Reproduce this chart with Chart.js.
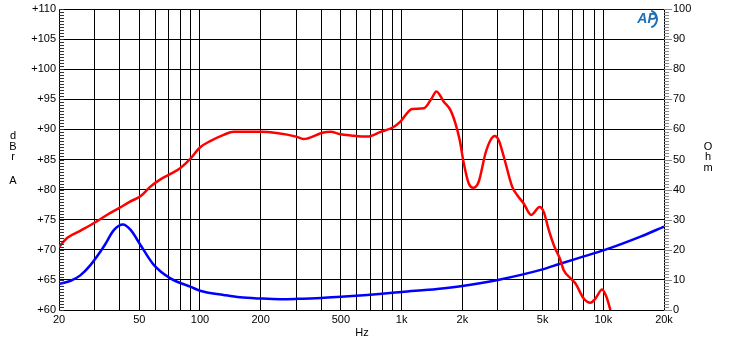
<!DOCTYPE html>
<html>
<head>
<meta charset="utf-8">
<script src="https://cdn.jsdelivr.net/npm/chart.js@4"></script>
<style>
  body { margin: 0; background: #fff; }
  canvas { display: block; }
</style>
</head>
<body>
<canvas id="myChart" width="730" height="343"></canvas>
<script>
// Frecuencias y niveles de la respuesta (rojo, dBrA)
const respFreq = [20, 22, 25.6, 30, 35, 40, 45, 50.7, 56.8, 63.7, 71.4, 80, 90, 100, 113, 131, 147, 200, 240, 300, 326, 410, 444, 497, 560, 676, 786, 912, 986,
  1128, 1288, 1400, 1488, 1618, 1746, 1848, 1942, 2032, 2152, 2263, 2411, 2603, 2757, 2895, 3031, 3209, 3532, 3738, 4031, 4386, 4838, 5065,
  5364, 5724, 6081, 6367, 6871, 7277, 8000, 8630, 9140, 9865, 10360, 10850];
const respDb = [70.5, 72.0, 73.2, 74.5, 75.9, 77.0, 78.0, 78.9, 80.5, 81.7, 82.6, 83.6, 85.2, 87.0, 88.1, 89.1, 89.6, 89.6, 89.4, 88.8, 88.4, 89.5, 89.6, 89.2, 89.0, 88.8, 89.6, 90.4, 91.3,
  93.4, 93.5, 95.0, 96.3, 94.6, 93.2, 91.0, 88.2, 84.4, 81.0, 80.3, 81.3, 86.0, 88.2, 88.9, 88.2, 85.5, 80.5, 79.1, 77.7, 75.8, 77.1, 76.3,
  73.3, 70.5, 68.6, 66.6, 65.3, 64.4, 61.9, 61.2, 61.9, 63.4, 62.2, 60.0];

// Impedancia (azul, Ohm)
const impFreq = [20, 23, 25.5, 28.7, 33.3, 37.5, 41.5, 45.3, 50.7, 59, 71.4, 90, 100, 131, 158, 200, 250, 300, 400, 500, 676, 800, 1000, 1500, 2000, 3000, 5000, 6000, 8000, 10000, 15300, 20000];
const impOhm = [8.6, 9.8, 11.5, 15.0, 21.0, 26.6, 28.4, 26.6, 21.6, 15.0, 10.5, 7.7, 6.4, 5.0, 4.2, 3.8, 3.6, 3.7, 4.0, 4.4, 5.0, 5.4, 6.0, 7.0, 8.0, 10.0, 13.5, 15.2, 17.8, 19.8, 24.4, 27.7];

// Lineas de grilla del eje X y sus etiquetas
const xGrid = [20, 30, 40, 50, 60, 70, 80, 90, 100, 200, 300, 400, 500, 600, 700, 800, 900, 1000, 2000, 3000, 4000, 5000, 6000, 7000, 8000, 9000, 10000, 20000];
const xLabelVals = [20, 50, 100, 200, 500, 1000, 2000, 5000, 10000, 20000];
const xLabels = ['20', '50', '100', '200', '500', '1k', '2k', '5k', '10k', '20k'];

const FONT = { family: 'Liberation Sans, Arial, sans-serif', size: 11 };

function toPoints(xs, ys) {
  return xs.map((x, i) => ({ x: x, y: ys[i] }));
}

// Plugin para marcas menores, titulos de ejes y logo
const extras = {
  id: 'extras',
  afterDraw(chart) {
    const ctx = chart.ctx;
    const area = chart.chartArea;
    const yL = chart.scales.y;
    const yR = chart.scales.y1;
    ctx.save();
    ctx.lineWidth = 1;
    // marcas menores izquierda (hacia adentro)
    ctx.strokeStyle = '#333';
    for (let v = 60; v <= 110; v += 0.5) {
      const py = Math.round(yL.getPixelForValue(v)) + 0.5;
      ctx.beginPath();
      ctx.moveTo(area.left, py);
      ctx.lineTo(area.left + 5, py);
      ctx.stroke();
    }
    // marcas menores derecha (hacia afuera)
    ctx.strokeStyle = '#888';
    for (let v = 0; v <= 100; v += 1) {
      const py = Math.round(yR.getPixelForValue(v)) + 0.5;
      ctx.beginPath();
      ctx.moveTo(area.right, py);
      ctx.lineTo(area.right + (v % 10 === 0 ? 8 : 5), py);
      ctx.stroke();
    }
    // titulos
    ctx.fillStyle = '#000';
    ctx.font = '11px Liberation Sans, Arial, sans-serif';
    ctx.textAlign = 'center';
    ctx.textBaseline = 'middle';
    [['d', 136], ['B', 147], ['r', 157], ['A', 181]].forEach(([t, y]) => ctx.fillText(t, 13, y));
    [['O', 147], ['h', 157], ['m', 168]].forEach(([t, y]) => ctx.fillText(t, 708, y));
    ctx.fillText('Hz', 362, 333);
    // logo AP
    ctx.fillStyle = '#1c6fb5';
    ctx.strokeStyle = '#1c6fb5';
    ctx.font = 'italic bold 14px Liberation Sans, Arial, sans-serif';
    ctx.fillText('AP', 647, 19);
    ctx.lineWidth = 2;
    ctx.beginPath();
    ctx.arc(648, 19, 9, -1.2, 1.2);
    ctx.stroke();
    ctx.restore();
  }
};

function fitY(width) {
  return s => {
    s.width = width;
    s.paddingTop = 0;
    s.paddingBottom = 0;
  };
}

const config = {
  type: 'line',
  data: {
    datasets: [
      {
        label: 'Respuesta',
        data: toPoints(respFreq, respDb),
        borderColor: '#ff0000',
        borderWidth: 2.5,
        pointRadius: 0,
        cubicInterpolationMode: 'monotone',
        yAxisID: 'y'
      },
      {
        label: 'Impedancia',
        data: toPoints(impFreq, impOhm),
        borderColor: '#0000ff',
        borderWidth: 2.5,
        pointRadius: 0,
        cubicInterpolationMode: 'monotone',
        yAxisID: 'y1'
      }
    ]
  },
  options: {
    responsive: false,
    animation: false,
    layout: { padding: { top: 9, left: 0, right: 0, bottom: 0 } },
    plugins: { legend: { display: false }, tooltip: { enabled: false } },
    scales: {
      x: {
        type: 'logarithmic',
        min: 20,
        max: 20000,
        afterBuildTicks: s => { s.ticks = xGrid.map(v => ({ value: v })); },
        afterFit: s => { s.height = 33; s.paddingLeft = 0; s.paddingRight = 0; },
        grid: { color: '#000', lineWidth: 1, drawTicks: false },
        border: { color: '#000' },
        ticks: {
          autoSkip: false,
          maxRotation: 0,
          padding: 3,
          color: '#000',
          font: FONT,
          callback: v => {
            const i = xLabelVals.indexOf(v);
            return i >= 0 ? xLabels[i] : '';
          }
        }
      },
      y: {
        position: 'left',
        min: 60,
        max: 110,
        afterFit: fitY(59),
        grid: { color: '#000', lineWidth: 1, drawTicks: false },
        border: { color: '#000' },
        ticks: { stepSize: 5, padding: 3, color: '#000', font: FONT, callback: v => '+' + v }
      },
      y1: {
        position: 'right',
        min: 0,
        max: 100,
        afterFit: fitY(66),
        grid: { drawOnChartArea: false, drawTicks: false },
        border: { color: '#000' },
        ticks: { stepSize: 10, padding: 9, color: '#000', font: FONT }
      }
    }
  },
  plugins: [extras]
};

new Chart(document.getElementById('myChart'), config);
</script>
</body>
</html>
